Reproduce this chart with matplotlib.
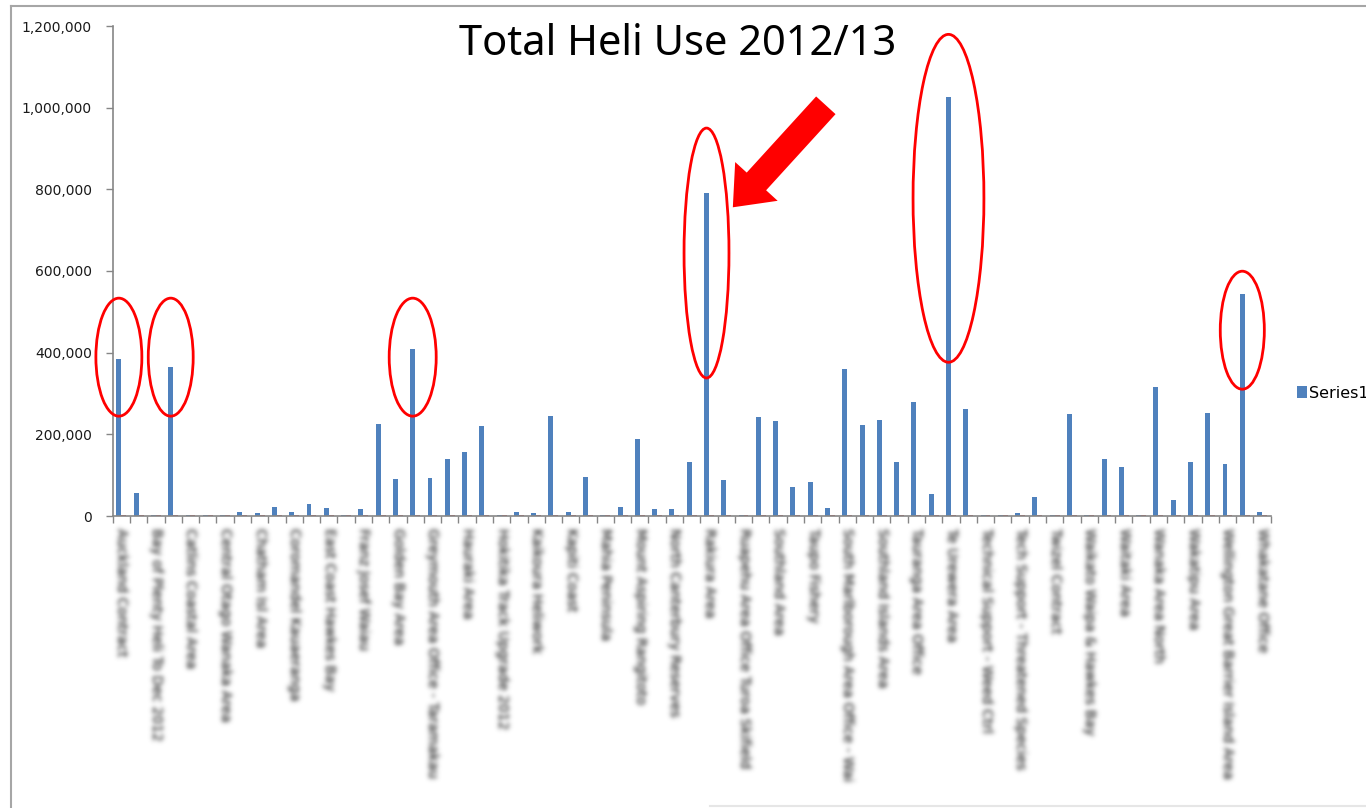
import matplotlib
matplotlib.use('Agg')
import matplotlib.pyplot as plt
import numpy as np
from matplotlib.patches import Ellipse
from matplotlib.lines import Line2D
from matplotlib.ticker import FixedLocator, FuncFormatter

# Series1 - total heli use per area (67 categories)
series1 = [384000, 56000, 3000, 365000, 3000, 3000, 3000, 10600, 7000, 22800,
           10600, 30000, 20000, 3000, 17000, 226000, 90000, 408000, 93000, 139500,
           156000, 219500, 3000, 10600, 7300, 245600, 10600, 96000, 3000, 22800,
           189000, 16300, 16300, 133000, 790000, 87000, 3000, 242000, 232600, 70000,
           83000, 20000, 361000, 222000, 236000, 133000, 278000, 53000, 1025000, 262000,
           3000, 3000, 6500, 46500, 3000, 249000, 3000, 139000, 119000, 3000,
           315000, 40000, 133000, 252000, 126500, 543500, 10600]
# Series2 - almost nothing, just visible on the baseline
series2 = [2500] * len(series1)

# only every second category gets a label (as in the Excel chart)
tick_labels = ['Auckland Contract', 'Bay of Plenty Heli To Dec 2012', 'Catlins Coastal Area',
               'Central Otago Wanaka Area', 'Chatham Isl Area', 'Coromandel Kauaeranga',
               'East Coast Hawkes Bay', 'Franz Josef Waiau', 'Golden Bay Area',
               'Greymouth Area Office - Taramakau', 'Hauraki Area', 'Hokitika Track Upgrade 2012',
               'Kaikoura Heliwork', 'Kapiti Coast', 'Mahia Peninsula', 'Mount Aspiring Rangitoto',
               'North Canterbury Reserves', 'Rakiura Area', 'Ruapehu Area Office Turoa Skifield',
               'Southland Area', 'Taupo Fishery', 'South Marlborough Area Office - Wai',
               'Southland Islands Area', 'Tauranga Area Office', 'Te Urewera Area',
               'Technical Support - Weed Ctrl', 'Tech Support - Threatened Species',
               'Twizel Contract', 'Waikato Waipa & Hawkes Bay', 'Waitaki Area',
               'Wanaka Area North', 'Wakatipu Area', 'Wellington Great Barrier Island Area',
               'Whakatane Office']

# red rings: (category, centre value, ring height, ring width in categories)
highlights = [(0, 389000, 289000, 2.66), (3, 389000, 289000, 2.6), (17, 389000, 289000, 2.72),
              (34, 644000, 612000, 2.6), (48, 778000, 803000, 4.1), (65, 455000, 289000, 2.55)]

BLUE = '#4F81BD'
RED = '#C0504D'
AXIS_GREY = '#868686'


def blur_filter(im, dpi):
    # gaussian blur on the alpha channel only -> fuzzy grey text
    pad = 9
    sigma = 2.3
    padded = np.pad(im, ((pad, pad), (pad, pad), (0, 0)))
    k = np.exp(-0.5 * (np.arange(-pad, pad + 1) / sigma) ** 2)
    k /= k.sum()
    a = padded[..., 3]
    a = np.apply_along_axis(lambda m: np.convolve(m, k, mode='same'), 0, a)
    a = np.apply_along_axis(lambda m: np.convolve(m, k, mode='same'), 1, a)
    out = np.empty_like(padded)
    out[..., 0] = 0.38
    out[..., 1] = 0.38
    out[..., 2] = 0.38
    out[..., 3] = np.clip(a * 1.7, 0, 1)
    return out, -pad, -pad


fig = plt.figure(figsize=(13.66, 8.08), dpi=100)
ax = fig.add_axes([112.7 / 1366, 1 - 516 / 808, 1158 / 1366, 490 / 808])

n = len(series1)
x = np.arange(n)
w = 1 / 3.5
b1 = ax.bar(x - w / 2, series1, w, color=BLUE, label='Series1', zorder=2)
ax.bar(x + w / 2, series2, w, color=RED, zorder=2)

ax.set_xlim(-0.5, n - 0.5)
ax.set_ylim(0, 1200000)
ax.yaxis.set_major_locator(FixedLocator(np.arange(0, 1200001, 200000)))
ax.yaxis.set_major_formatter(FuncFormatter(lambda v, p: f'{int(v):,}'))

ax.xaxis.set_major_locator(FixedLocator(np.arange(-0.5, n, 1.0)))
ax.xaxis.set_major_formatter(FuncFormatter(lambda v, p: ''))
ax.xaxis.set_minor_locator(FixedLocator(np.arange(0, n, 2)))
ax.set_xticklabels(tick_labels, minor=True, rotation=-90, fontsize=10)
for lbl in ax.get_xticklabels(minor=True):
    lbl.set_va('top')
    lbl.set_ha('center')
    lbl.set_agg_filter(blur_filter)

ax.tick_params(axis='x', which='major', length=5, width=1, color=AXIS_GREY, direction='out')
ax.tick_params(axis='x', which='minor', length=0, pad=9)
ax.tick_params(axis='y', length=5, width=1, color=AXIS_GREY, direction='out',
               labelsize=10, labelcolor='#1a1a1a', pad=10)

for side in ['top', 'right']:
    ax.spines[side].set_visible(False)
for side in ['left', 'bottom']:
    ax.spines[side].set_color(AXIS_GREY)
    ax.spines[side].set_linewidth(1.2)

# red rings round the big users
for idx, cy, h, ew in highlights:
    ax.add_patch(Ellipse((idx - w / 2, cy), ew, h, fill=False, edgecolor='#FF0000',
                         linewidth=2, zorder=4, clip_on=False))

# big red arrow pointing at the 790k bar
ax.annotate('', xy=(34 + 1.38, 756000), xytext=(93, 102), textcoords='offset pixels',
            arrowprops=dict(arrowstyle='simple,head_length=1.4,head_width=2.3,tail_width=1.05',
                            mutation_scale=18, facecolor='#FF0000', edgecolor='none',
                            shrinkA=0, shrinkB=0))

fig.text(678 / 1366, 1 - 44 / 808, 'Total Heli Use 2012/13', ha='center', va='center',
         fontsize=30, family='Noto Sans', color='black')

ax.legend([b1], ['Series1'], loc='center left', bbox_to_anchor=(1297 / 1366, 1 - 393 / 808),
          bbox_transform=fig.transFigure, frameon=False, fontsize=11.5,
          handlelength=0.6, handleheight=0.7, handletextpad=0.15, borderpad=0, borderaxespad=0)

# chart area border (only left/top visible in the screenshot)
fig.add_artist(Line2D([11 / 1366, 11 / 1366], [0, 1 - 6 / 808], color='#a6a6a6', lw=1.5))
fig.add_artist(Line2D([11 / 1366, 1], [1 - 6 / 808, 1 - 6 / 808], color='#a6a6a6', lw=1.5))
fig.add_artist(Line2D([710 / 1366, 1], [2 / 808, 2 / 808], color='#e6e6e6', lw=1.5))

fig.savefig('out.png', dpi=100)
